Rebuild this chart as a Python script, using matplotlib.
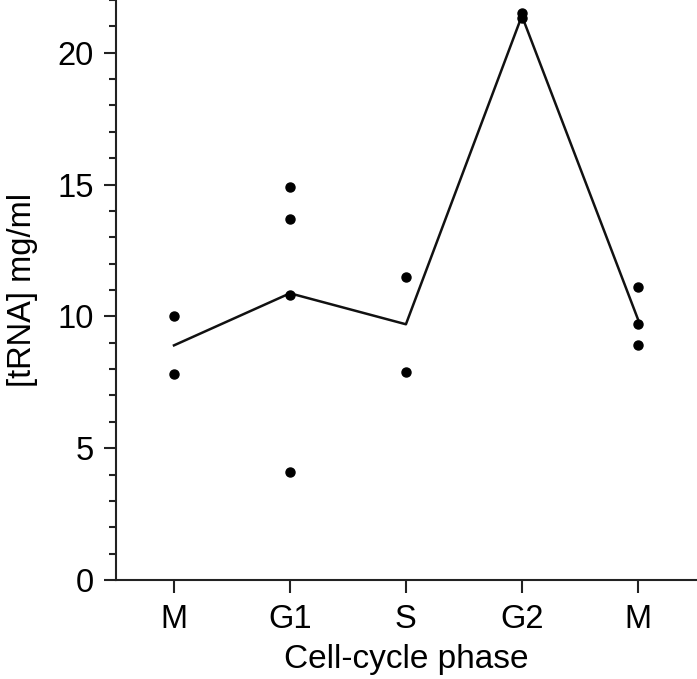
import numpy as np
import matplotlib
matplotlib.use('Agg')
import matplotlib.pyplot as plt
from matplotlib.ticker import MultipleLocator

# ------------------------------------------------------------------------------------- #
# Data
phases = ['M', 'G1', 'S', 'G2', 'M']
vals_M1 = [10.0, 7.8]
vals_G1 = [14.9, 13.7, 10.8, 4.1]
vals_S = [11.5, 7.9]
vals_G2 = [21.5, 21.3]
vals_M2 = [11.1, 9.7, 8.9]
groups = [vals_M1, vals_G1, vals_S, vals_G2, vals_M2]

# ------------------------------------------------------------------------------------- #
plt.rcParams['font.family'] = ['Liberation Sans', 'DejaVu Sans']

fig = plt.figure(figsize=(6.97, 6.79), dpi=100)
ax = fig.add_axes([116/697, 99/679, 1 - 116/697, 1 - 99/679])

# individual measurements
for i, g in enumerate(groups):
    ax.plot([i]*len(g), g, 'o', color='black', markersize=6.5, zorder=3)

# line through the means
means = [np.mean(g) for g in groups]
ax.plot(range(len(groups)), means, color='#111111', linewidth=1.8)

ax.set_xlim(-0.5, 4.51)
ax.set_ylim(0, 22)
ax.set_xticks(range(len(phases)))
ax.set_xticklabels(phases)
ax.yaxis.set_major_locator(MultipleLocator(5))
ax.yaxis.set_minor_locator(MultipleLocator(1))

for s in ['top', 'right']:
    ax.spines[s].set_visible(False)
for s in ['left', 'bottom']:
    ax.spines[s].set_linewidth(1.5)
    ax.spines[s].set_color('#222222')

ax.tick_params(axis='both', which='major', labelsize=23.5, width=1.5, length=9,
               pad=7, color='#222222')
ax.tick_params(axis='y', which='minor', width=1.5, length=5, color='#222222')
ax.tick_params(axis='x', which='major', length=9, pad=8)

ax.set_xlabel('Cell-cycle phase', fontsize=24, labelpad=7)
ax.set_ylabel('[tRNA] mg/ml', fontsize=23.5, labelpad=14)

fig.savefig('out.png', dpi=100)
